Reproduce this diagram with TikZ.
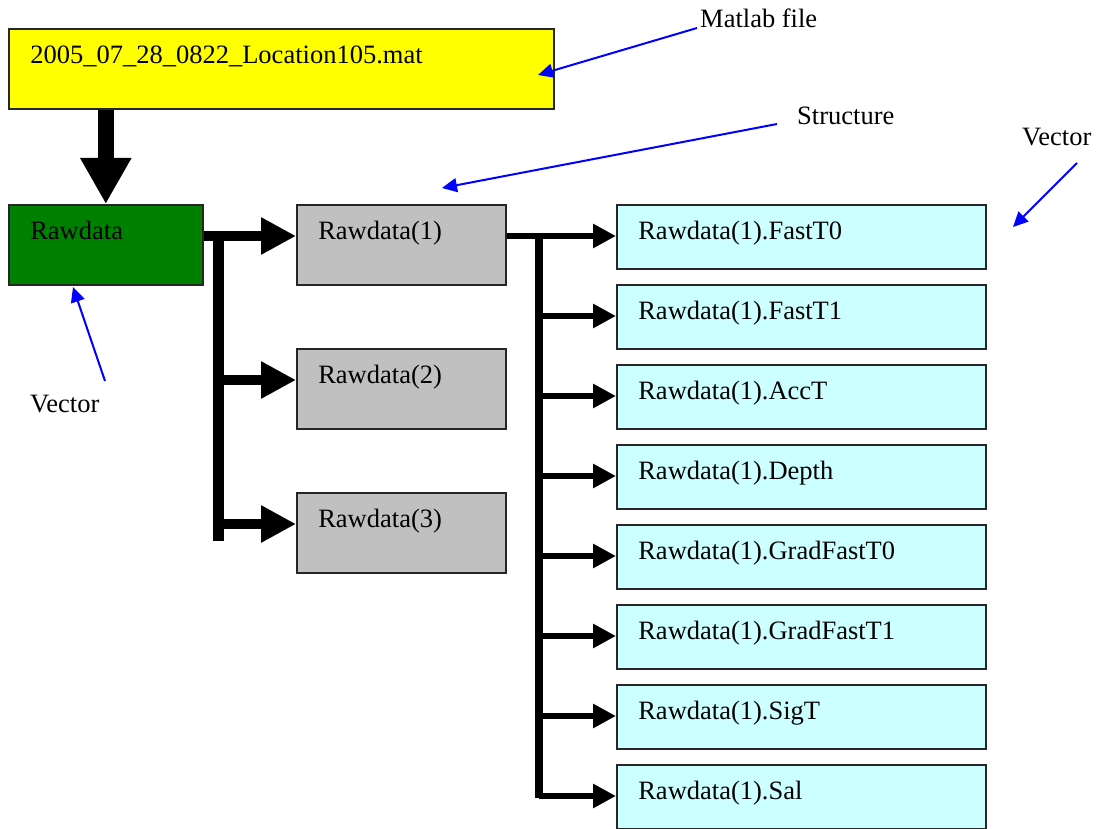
\documentclass[tikz,border=0pt]{standalone}
\usepackage{fontspec}
\setmainfont{Liberation Serif}
\usetikzlibrary{arrows.meta,calc}

\definecolor{fileyellow}{RGB}{255,255,0}
\definecolor{vargreen}{RGB}{0,128,0}
\definecolor{structgray}{RGB}{192,192,192}
\definecolor{fieldcyan}{RGB}{204,255,255}
\definecolor{notecolor}{RGB}{0,0,255}

\begin{document}
\begin{tikzpicture}[x=1pt,y=-1pt,
  box/.style={draw=black!85, line width=1.6pt, anchor=north west,
    inner xsep=21.5pt, inner ysep=0pt, align=left, text height=35pt,
    font=\fontsize{26.5}{30}\selectfont},
  tallbox/.style={box, text depth=45pt},
  shortbox/.style={box, text depth=29pt},
  note/.style={anchor=base west, inner sep=0pt, font=\fontsize{26.5}{30}\selectfont},
  pointer/.style={color=notecolor, line width=2pt, -{Triangle[length=15pt,width=14pt]}},
  trunk/.style={line width=16pt, -{Triangle[length=46pt,width=48pt]}},
  branch/.style={line width=10pt, -{Triangle[length=35pt,width=35pt]}},
  twig/.style={line width=6.5pt, -{Triangle[length=23pt,width=23pt]}},
]
\useasboundingbox (0,0) rectangle (1097,829);

% file, top-level variable and structure elements
\node[tallbox, fill=fileyellow, text width=502pt] (file) at (8,28)
  {2005\_07\_28\_0822\_Location105.mat};
\node[tallbox, fill=vargreen, text width=151pt] (raw) at (8,204) {Rawdata};
\foreach \i in {1,2,3}{
  \node[tallbox, fill=structgray, text width=166pt] (s\i) at (296,{204+144*(\i-1)})
    {Rawdata(\i)};
  \coordinate (sin\i) at ($(s\i.north west)+(0,32)$);
}

% fields of the first structure element
\foreach \f [count=\k from 0] in {FastT0,FastT1,AccT,Depth,GradFastT0,GradFastT1,SigT,Sal}{
  \node[shortbox, fill=fieldcyan, text width=326pt] (f\k) at (616,{204+80*\k})
    {Rawdata(1).\f};
  \coordinate (fin\k) at ($(f\k.north west)+(0,32)$);
}

% file -> variable
\draw[trunk] (raw.north |- file.south) -- (raw.north);

% variable -> structure elements
\coordinate (busA) at ($(raw.east |- sin1)+(15,0)$);
\draw[line width=11pt] ($(busA)+(0,-5)$) -- ($(busA |- sin3)+(0,17)$);
\draw[branch] (raw.east |- sin1) -- (sin1);
\draw[branch] (busA |- sin2) -- (sin2);
\draw[branch] (busA |- sin3) -- (sin3);

% structure element -> fields
\coordinate (busB) at ($(s1.east |- fin0)+(32,0)$);
\draw[line width=8pt] ($(busB)+(0,-3)$) -- ($(busB |- fin7)+(0,2)$);
\draw[twig] (s1.east |- fin0) -- (fin0);
\foreach \k in {1,...,7}{
  \draw[twig] (busB |- fin\k) -- (fin\k);
}

% annotations
\node[note] (lblfile) at (700,28) {Matlab file};
\node[note] (lblstruct) at (797,125) {Structure};
\node[note] (lblvecR) at (1022,146) {Vector};
\node[note] (lblvecL) at (30,412) {Vector};

\coordinate (tailfile) at (697,28);
\coordinate (tipfile) at (538,75);
\coordinate (tailstruct) at (777,124);
\coordinate (tipstruct) at (442,188);
\coordinate (tailvecR) at (1077,163);
\coordinate (tipvecR) at (1013,227);
\coordinate (tailvecL) at (105,381);
\coordinate (tipvecL) at (73,287);

\draw[pointer] (tailfile) -- (tipfile);
\draw[pointer] (tailstruct) -- (tipstruct);
\draw[pointer] (tailvecR) -- (tipvecR);
\draw[pointer] (tailvecL) -- (tipvecL);
\end{tikzpicture}
\end{document}
